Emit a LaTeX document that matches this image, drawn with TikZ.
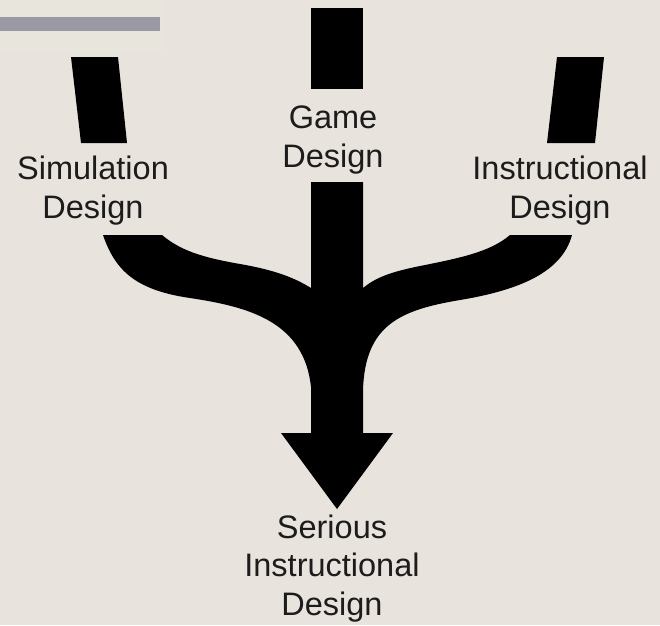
\documentclass[tikz,border=0pt]{standalone}
\usepackage{fontspec}
\setmainfont{Liberation Sans}
\definecolor{paper}{HTML}{E9E3DD}
\definecolor{paperlight}{HTML}{E8E6DC}
\definecolor{bargray}{HTML}{9B99A3}
\definecolor{ink}{HTML}{1C1C1C}
\begin{document}
\begin{tikzpicture}[x=1pt,y=-1pt,
  label/.style={align=center,inner sep=0pt,text=ink,
    font=\fontsize{32.5}{38.5}\selectfont},
  flow/.style={fill=black,draw=none}]
% page
\fill[paper] (0,0) rectangle (660,625);
\useasboundingbox (0,0) rectangle (660,625);
\fill[paperlight] (0,0) rectangle (166,52);
\fill[bargray] (0,17) rectangle (160,31);

% three sources
\fill[flow] (71,57) -- (118,57) -- (127,143) -- (81,143) -- cycle;
\fill[flow] (311,8) rectangle (363,89);
\fill[flow] (557,57) -- (604,57) -- (595,143) -- (547,143) -- cycle;

% merging streams and the arrow
\fill[flow] (311,182) -- (311,288)
  .. controls (295,278) and (275,270) .. (240,264)
  .. controls (200,257) and (180,250) .. (162,235)
  -- (103,235)
  .. controls (115,270) and (135,290) .. (190,298)
  .. controls (250,307) and (304,322) .. (311,387)
  -- (311,433) -- (281,433) -- (337,509) -- (393,433) -- (363,433)
  -- (363,390)
  .. controls (365,325) and (400,310) .. (460,300)
  .. controls (520,290) and (562,272) .. (572,235)
  -- (510,235)
  .. controls (490,252) and (460,258) .. (420,266)
  .. controls (390,272) and (375,278) .. (363,288)
  -- (363,182) -- cycle;

% labels (base anchor sits on the last line)
\node[label,anchor=base] (game) at (333,167) {Game\\Design};
\node[label,anchor=base] (sim) at (93,218) {Simulation\\Design};
\node[label,anchor=base] (instr) at (560,218) {Instructional\\Design};
\node[label,anchor=base] (serious) at (332,615) {Serious\\Instructional\\Design};
\end{tikzpicture}
\end{document}
